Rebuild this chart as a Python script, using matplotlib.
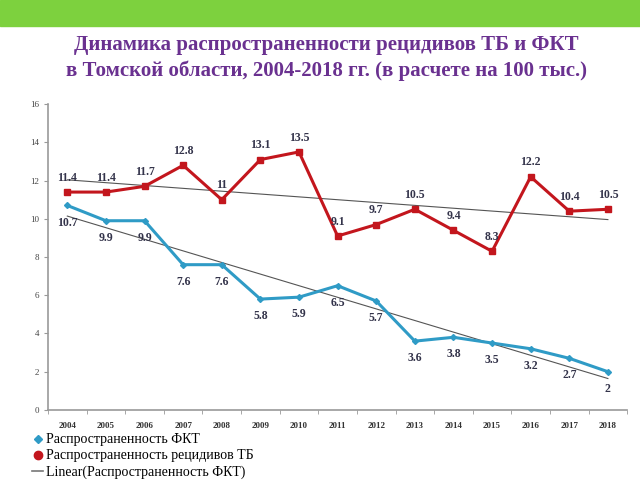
import numpy as np
import matplotlib.pyplot as plt
from matplotlib.patches import Rectangle

years = ['2004', '2005', '2006', '2007', '2008', '2009', '2010', '2011',
         '2012', '2013', '2014', '2015', '2016', '2017', '2018']
fkt = [10.7, 9.9, 9.9, 7.6, 7.6, 5.8, 5.9, 6.5, 5.7, 3.6, 3.8, 3.5, 3.2, 2.7, 2.0]
tb = [11.4, 11.4, 11.7, 12.8, 11.0, 13.1, 13.5, 9.1, 9.7, 10.5, 9.4, 8.3, 12.2, 10.4, 10.5]
fkt_labels = ['10.7', '9.9', '9.9', '7.6', '7.6', '5.8', '5.9', '6.5', '5.7',
              '3.6', '3.8', '3.5', '3.2', '2.7', '2']
tb_labels = ['11.4', '11.4', '11.7', '12.8', '11', '13.1', '13.5', '9.1', '9.7',
             '10.5', '9.4', '8.3', '12.2', '10.4', '10.5']

blue = '#2f9bc6'
red = '#c3161d'
purple = '#6a3190'
serif = 'Liberation Serif'

fig = plt.figure(figsize=(6.4, 4.8), dpi=100)
fig.patches.append(Rectangle((0, 1 - 26 / 480), 1, 26 / 480, transform=fig.transFigure,
                             color='#7dd13e', zorder=0))
fig.text(0.51, 0.879, 'Динамика распространенности рецидивов ТБ и ФКТ\n'
         'в Томской области, 2004-2018 гг. (в расчете на 100 тыс.)',
         ha='center', va='center', color=purple, fontsize=15, fontweight='bold',
         family=serif, linespacing=1.35)

ax = fig.add_axes([0.075, 0.146, 0.905, 0.637])
x = np.arange(len(years))

# linear trends
for vals in (fkt, tb):
    k, b = np.polyfit(x, vals, 1)
    ax.plot(x, k * x + b, color='#555555', lw=0.8, zorder=1)

ax.plot(x, fkt, color=blue, lw=2.2, marker='D', ms=3, zorder=3)
ax.plot(x, tb, color=red, lw=2.2, marker='s', ms=5, zorder=3)

for xi, v, s in zip(x, fkt, fkt_labels):
    ax.annotate(s, (xi, v), xytext=(0, -8), textcoords='offset points',
                ha='center', va='top', fontsize=8.5, fontweight='bold',
                family=serif, color='#33334a')
for xi, v, s in zip(x, tb, tb_labels):
    ax.annotate(s, (xi, v), xytext=(0, 6), textcoords='offset points',
                ha='center', va='bottom', fontsize=8.5, fontweight='bold',
                family=serif, color='#33334a')

ax.set_xlim(-0.5, len(years) - 0.5)
ax.set_ylim(0, 16)
ax.set_yticks(range(0, 17, 2))
ax.set_xticks(x)
ax.set_xticklabels(years, family=serif, fontweight='bold', fontsize=6.5, color='#333333')
ax.set_xticks(np.arange(-0.5, len(years), 1), minor=True)
ax.tick_params(axis='x', which='major', length=0, pad=9)
ax.tick_params(axis='x', which='minor', length=3, color='#999999')
ax.tick_params(axis='y', labelsize=6.5, labelcolor='#444444', length=3, color='#999999')
for lab in ax.get_yticklabels():
    lab.set_family(serif)
for side in ('top', 'right'):
    ax.spines[side].set_visible(False)
for side in ('left', 'bottom'):
    ax.spines[side].set_color('#999999')
    ax.spines[side].set_linewidth(1.2)

h1 = plt.Line2D([], [], color=blue, marker='D', ms=4, lw=0)
h2 = plt.Line2D([], [], color=red, marker='o', ms=6, lw=0)
h3 = plt.Line2D([], [], color='#777777', lw=1.2)
fig.legend([h1, h2, h3],
           ['Распространенность ФКТ', 'Распространенность рецидивов ТБ',
            'Linear(Распространенность ФКТ)'],
           loc='upper left', bbox_to_anchor=(0.05, 0.097), frameon=False,
           prop={'family': serif, 'size': 10}, handlelength=0.8,
           handletextpad=0.2, labelspacing=0.22, borderaxespad=0, borderpad=0)

fig.savefig('out.png', dpi=100)
